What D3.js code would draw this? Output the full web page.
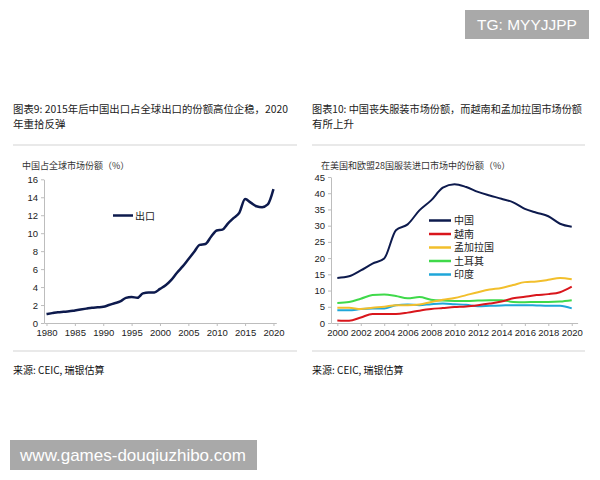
<!DOCTYPE html>
<html>
<head>
<meta charset="utf-8">
<script src="https://cdn.jsdelivr.net/npm/d3@7"></script>
<style>
  body { margin: 0; background: #fff; }
  svg text { font-family: "Liberation Sans", "Noto Sans CJK SC", sans-serif; }
  .cn { font-family: "Noto Sans CJK SC", sans-serif; }
</style>
</head>
<body>
<svg id="chart" width="600" height="480"></svg>
<script>
// left chart: China share of world exports
var exportYears = d3.range(1980, 2021);
var exportShare = [1.0, 1.1, 1.2, 1.25, 1.3, 1.4, 1.5, 1.6, 1.7, 1.75,
  1.8, 2.0, 2.2, 2.4, 2.8, 2.9, 2.8, 3.3, 3.4, 3.4,
  3.8, 4.2, 4.8, 5.6, 6.3, 7.1, 7.9, 8.7, 8.8, 9.6,
  10.3, 10.4, 11.1, 11.7, 12.3, 13.8, 13.4, 13.0, 12.9, 13.2, 14.9];
var leftTicksY = [0, 2, 4, 6, 8, 10, 12, 14, 16];
var leftTicksX = [1980, 1985, 1990, 1995, 2000, 2005, 2010, 2015, 2020];

// right chart: share of US + EU28 apparel imports
var appYears = d3.range(2000, 2021);
var china = [13.9, 14.4, 16.2, 18.3, 19.9, 28.6, 30.4, 34.7, 37.8, 41.7,
  42.8, 41.9, 40.4, 39.3, 38.3, 37.2, 35.2, 34.0, 32.9, 30.6, 29.7];
var vietnam = [0.8, 0.7, 1.7, 2.8, 2.8, 2.8, 3.2, 3.8, 4.3, 4.6,
  4.9, 5.1, 5.5, 6.0, 6.6, 7.6, 8.1, 8.6, 8.9, 9.5, 11.2];
var bangladesh = [4.7, 4.7, 4.3, 4.7, 5.0, 5.5, 5.5, 5.7, 6.5, 7.2,
  7.7, 8.6, 9.5, 10.3, 10.8, 11.7, 12.6, 12.8, 13.3, 13.9, 13.5];
var turkey = [6.2, 6.5, 7.5, 8.6, 8.8, 8.3, 7.6, 8.0, 7.2, 6.9,
  6.8, 6.8, 6.9, 7.0, 7.0, 6.5, 6.4, 6.5, 6.5, 6.6, 7.0];
var india = [3.9, 3.9, 4.3, 4.5, 4.5, 5.5, 5.7, 5.5, 5.8, 6.0,
  5.8, 5.6, 5.2, 5.3, 5.4, 5.5, 5.5, 5.4, 5.3, 5.3, 4.5];
var seriesNames = ["中国", "越南", "孟加拉国", "土耳其", "印度"];
var seriesColors = ["#0d1a4d", "#d9161c", "#f2bf2c", "#3fd94a", "#1fa6d9"];
var rightTicksY = [0, 5, 10, 15, 20, 25, 30, 35, 40, 45];
var rightTicksX = d3.range(2000, 2021, 2);

var svg = d3.select("#chart");

// headers, separators, sources
function panelText(x0, x1, title1, len1, title2, yTitle) {
  svg.append("text").attr("class", "cn").attr("x", x0).attr("y", 112.5)
    .attr("font-size", 10.5).attr("fill", "#222")
    .attr("textLength", len1).attr("lengthAdjust", "spacingAndGlyphs").text(title1);
  svg.append("text").attr("class", "cn").attr("x", x0).attr("y", 127.5)
    .attr("font-size", 10.5).attr("fill", "#222").text(title2);
  svg.append("line").attr("x1", x0).attr("x2", x1).attr("y1", 145).attr("y2", 145)
    .attr("stroke", "#e2e2e2").attr("stroke-width", 1.5);
  svg.append("line").attr("x1", x0).attr("x2", x1).attr("y1", 351).attr("y2", 351)
    .attr("stroke", "#e2e2e2").attr("stroke-width", 1.5);
  svg.append("text").attr("class", "cn").attr("x", x0).attr("y", 374)
    .attr("font-size", 10).attr("fill", "#111").text("来源: CEIC, 瑞银估算");
  svg.append("text").attr("class", "cn").attr("x", x0 + 9).attr("y", 169)
    .attr("font-size", 9).attr("fill", "#333").text(yTitle);
}

panelText(13, 297, "图表9: 2015年后中国出口占全球出口的份额高位企稳，2020", 275, "年重拾反弹",
  "中国占全球市场份额（%）");
panelText(312, 585, "图表10: 中国丧失服装市场份额，而越南和孟加拉国市场份额", 270, "有所上升",
  "在美国和欧盟28国服装进口市场中的份额（%）");

function drawAxes(x, y, xTicks, yTicks, xFmt) {
  var g = svg.append("g");
  g.append("g").attr("transform", "translate(0," + y.range()[0] + ")")
    .call(d3.axisBottom(x).tickValues(xTicks).tickFormat(xFmt).tickSize(3).tickSizeOuter(0));
  g.append("g").attr("transform", "translate(" + x.range()[0] + ",0)")
    .call(d3.axisLeft(y).tickValues(yTicks).tickSize(3).tickSizeOuter(0));
  g.selectAll(".domain").attr("stroke", "#bdbdbd");
  g.selectAll(".tick line").attr("stroke", "#bdbdbd");
  g.selectAll(".tick text").attr("font-size", 9.5).attr("fill", "#222")
    .attr("font-family", "Liberation Sans, sans-serif");
}

// left chart
var xL = d3.scaleLinear().domain([1979.56, 2020.5]).range([44, 276.3]);
var yL = d3.scaleLinear().domain([0, 16]).range([323, 179.3]);
drawAxes(xL, yL, leftTicksX, leftTicksY, d3.format("d"));

var lineL = d3.line()
  .x(function(d, i) { return xL(exportYears[i]); })
  .y(function(d) { return yL(d); })
  .curve(d3.curveMonotoneX);
svg.append("path").datum(exportShare).attr("d", lineL)
  .attr("fill", "none").attr("stroke", "#0d1a4d").attr("stroke-width", 2.5);

svg.append("line").attr("x1", 113).attr("x2", 133).attr("y1", 215.5).attr("y2", 215.5)
  .attr("stroke", "#0d1a4d").attr("stroke-width", 2.5);
svg.append("text").attr("class", "cn").attr("x", 135).attr("y", 219.5)
  .attr("font-size", 10).attr("fill", "#222").text("出口");

// right chart
var xR = d3.scaleLinear().domain([1999.46, 2020.5]).range([331, 577.6]);
var yR = d3.scaleLinear().domain([0, 45]).range([323, 177]);
drawAxes(xR, yR, rightTicksX, rightTicksY, d3.format("d"));

var allSeries = [turkey, india, bangladesh, vietnam, china];
var order = [3, 4, 2, 1, 0];
var lineR = d3.line()
  .x(function(d, i) { return xR(appYears[i]); })
  .y(function(d) { return yR(d); })
  .curve(d3.curveMonotoneX);
allSeries.forEach(function(s, k) {
  svg.append("path").datum(s).attr("d", lineR)
    .attr("fill", "none").attr("stroke", seriesColors[order[k]]).attr("stroke-width", 2);
});

seriesNames.forEach(function(name, i) {
  var ly = 220.5 + i * 13.5;
  svg.append("line").attr("x1", 429).attr("x2", 451).attr("y1", ly).attr("y2", ly)
    .attr("stroke", seriesColors[i]).attr("stroke-width", 2.5);
  svg.append("text").attr("class", "cn").attr("x", 454).attr("y", ly + 3.5)
    .attr("font-size", 10).attr("fill", "#222").text(name);
});

// watermarks
svg.append("rect").attr("x", 465).attr("y", 10).attr("width", 124).attr("height", 29)
  .attr("fill", "#a9a9a9");
svg.append("text").attr("x", 527).attr("y", 30).attr("text-anchor", "middle")
  .attr("font-size", 15.5).attr("fill", "#fff").text("TG: MYYJJPP");
svg.append("rect").attr("x", 10).attr("y", 440).attr("width", 247).attr("height", 30)
  .attr("fill", "#a9a9a9");
svg.append("text").attr("x", 133).attr("y", 461).attr("text-anchor", "middle")
  .attr("font-size", 17).attr("fill", "#fff").text("www.games-douqiuzhibo.com");
</script>
</body>
</html>
